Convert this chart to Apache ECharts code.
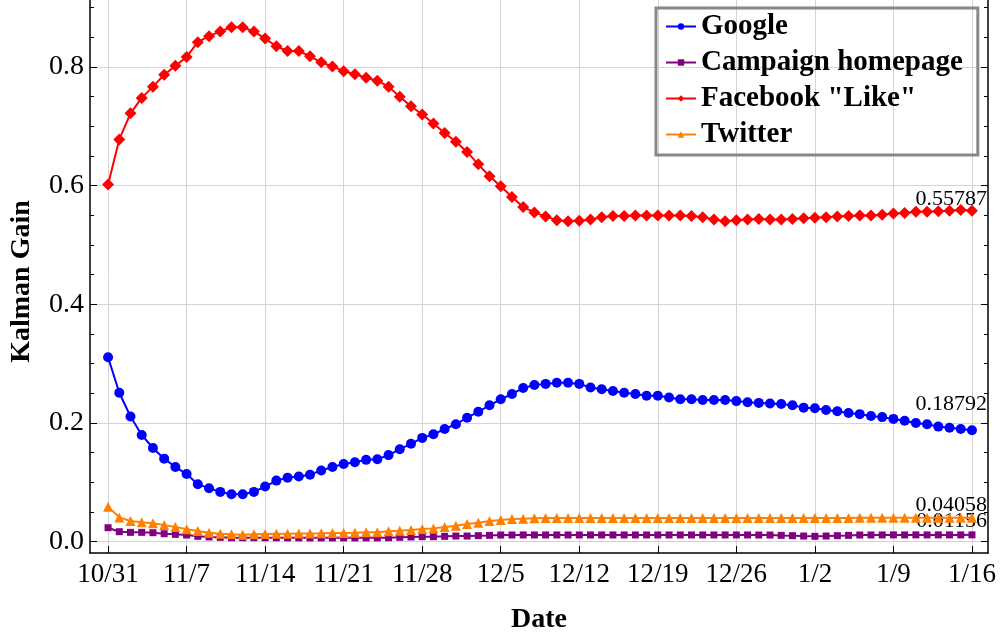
<!DOCTYPE html>
<html>
<head>
<meta charset="utf-8">
<script src="https://cdn.jsdelivr.net/npm/echarts@6/dist/echarts.min.js"></script>
<style>
  html, body { margin: 0; padding: 0; background: #fff; }
  #chart { width: 1000px; height: 636px; }
</style>
</head>
<body>
<div id="chart"></div>
<script>
// ---- Data (day index 0 = 10/31, one point per day through 1/16) ----
const tickDays = [0, 7, 14, 21, 28, 35, 42, 49, 56, 63, 70, 77];
const tickLabels = ['10/31', '11/7', '11/14', '11/21', '11/28', '12/5', '12/12', '12/19', '12/26', '1/2', '1/9', '1/16'];
const yMajor = [0, 0.2, 0.4, 0.6, 0.8];
const yMinor = [0.05, 0.1, 0.15, 0.25, 0.3, 0.35, 0.45, 0.5, 0.55, 0.65, 0.7, 0.75, 0.85, 0.9];

const seriesNames = ['Google', 'Campaign homepage', 'Facebook "Like"', 'Twitter'];

const google = [
  0.311, 0.251, 0.211, 0.180, 0.158, 0.140, 0.126, 0.114, 0.097, 0.090,
  0.084, 0.080, 0.080, 0.084, 0.093, 0.103, 0.108, 0.110, 0.113, 0.120,
  0.126, 0.131, 0.134, 0.138, 0.139, 0.146, 0.156, 0.165, 0.175, 0.181,
  0.190, 0.198, 0.209, 0.219, 0.230, 0.240, 0.249, 0.259, 0.264, 0.266,
  0.268, 0.268, 0.266, 0.260, 0.257, 0.254, 0.251, 0.249, 0.246, 0.246,
  0.243, 0.240, 0.240, 0.239, 0.239, 0.239, 0.237, 0.235, 0.234, 0.233,
  0.232, 0.230, 0.226, 0.225, 0.222, 0.220, 0.217, 0.215, 0.212, 0.210,
  0.207, 0.204, 0.200, 0.198, 0.194, 0.192, 0.190, 0.18792
];
const campaign = [
  0.0236, 0.0169, 0.0158, 0.0158, 0.0152, 0.0135, 0.0124, 0.0113, 0.0091, 0.0080,
  0.0074, 0.0068, 0.0068, 0.0068, 0.0067, 0.0067, 0.0066, 0.0066, 0.0065, 0.0065,
  0.0065, 0.0065, 0.0065, 0.0065, 0.0065, 0.0068, 0.0074, 0.0080, 0.0085, 0.0085,
  0.0091, 0.0096, 0.0096, 0.0102, 0.0107, 0.0113, 0.0113, 0.0114, 0.0114, 0.0114,
  0.0114, 0.0114, 0.0114, 0.0114, 0.0114, 0.0114, 0.0114, 0.0114, 0.0114, 0.0114,
  0.0114, 0.0114, 0.0114, 0.0114, 0.0114, 0.0114, 0.0114, 0.0114, 0.0113, 0.0113,
  0.0107, 0.0102, 0.0096, 0.0091, 0.0096, 0.0102, 0.0107, 0.0113, 0.0114, 0.0114,
  0.0115, 0.0115, 0.0115, 0.0115, 0.0115, 0.0115, 0.0115, 0.01156
];
const facebook = [
  0.602, 0.678, 0.722, 0.748, 0.767, 0.787, 0.802, 0.817, 0.842, 0.852,
  0.860, 0.867, 0.867, 0.860, 0.848, 0.835, 0.827, 0.827, 0.818, 0.808,
  0.801, 0.793, 0.788, 0.782, 0.777, 0.767, 0.750, 0.734, 0.720, 0.705,
  0.689, 0.674, 0.657, 0.636, 0.616, 0.599, 0.581, 0.564, 0.555, 0.548,
  0.542, 0.540, 0.541, 0.543, 0.547, 0.549, 0.549, 0.550, 0.550, 0.550,
  0.550, 0.550, 0.549, 0.547, 0.543, 0.540, 0.542, 0.543, 0.544, 0.543,
  0.543, 0.544, 0.545, 0.546, 0.547, 0.548, 0.549, 0.550, 0.550, 0.551,
  0.553, 0.554, 0.556, 0.556, 0.557, 0.558, 0.559, 0.55787
];
const twitter = [
  0.059, 0.041, 0.035, 0.033, 0.031, 0.028, 0.025, 0.021, 0.018, 0.015,
  0.0135, 0.0124, 0.0118, 0.0124, 0.0130, 0.0135, 0.0135, 0.0138, 0.0140, 0.0142,
  0.0145, 0.0148, 0.0152, 0.0158, 0.0160, 0.0175, 0.0185, 0.0197, 0.0214, 0.0225,
  0.0248, 0.0270, 0.0298, 0.0320, 0.0349, 0.0366, 0.0382, 0.0388, 0.0394, 0.0398,
  0.0400, 0.0401, 0.0401, 0.0401, 0.0401, 0.0401, 0.0401, 0.0401, 0.0401, 0.0401,
  0.0401, 0.0401, 0.0401, 0.0401, 0.0401, 0.0401, 0.0401, 0.0401, 0.0401, 0.0401,
  0.0401, 0.0401, 0.0401, 0.0401, 0.0401, 0.0401, 0.0401, 0.0402, 0.0402, 0.0402,
  0.0403, 0.0403, 0.0404, 0.0404, 0.0405, 0.0405, 0.0405, 0.04058
];
const endLabels = ['0.18792', '0.01156', '0.55787', '0.04058'];

// ---- Styling ----
const SERIF = '"Liberation Serif", "Times New Roman", serif';
const colors = ['#0000ff', '#800080', '#ff0000', '#ff8000'];
const symbols = ['circle', 'rect', 'diamond', 'triangle'];
const symbolSizes = [10, 7, 12, 10];
const labelOffsets = [[15, -10], [15, 1], [15, 6], [15, 4]];
const values = [google, campaign, facebook, twitter];

function buildData(arr, idx) {
  return arr.map((v, i) => {
    if (i === arr.length - 1) {
      return {
        value: [i, v],
        label: {
          show: true,
          formatter: endLabels[idx],
          position: 'top',
          distance: 0,
          align: 'right',
          offset: labelOffsets[idx],
          fontFamily: SERIF,
          fontSize: 22,
          color: '#000'
        }
      };
    }
    return [i, v];
  });
}

const yMin = -0.019, yMax = 0.913;
const axisLineStyle = { color: '#000', width: 1.5 };
const gridLine = { show: true, lineStyle: { color: '#d4d4d4', width: 1 } };

const chart = echarts.init(document.getElementById('chart'), null, { renderer: 'canvas' });
chart.setOption({
  animation: false,
  backgroundColor: '#fff',
  grid: { left: 90, right: 12, top: 0, bottom: 83, containLabel: false, outerBoundsMode: 'none' },
  legend: {
    orient: 'vertical',
    left: 656, top: 8,
    data: seriesNames,
    borderColor: '#888', borderWidth: 3,
    padding: [4, 15, 6, 9],
    itemGap: 7, itemWidth: 30, itemHeight: 8,
    textStyle: { fontFamily: SERIF, fontWeight: 'bold', fontSize: 29, color: '#000' }
  },
  xAxis: [{
    type: 'value', min: -1.61, max: 78.43,
    axisLine: { show: true, onZero: false, lineStyle: axisLineStyle },
    axisTick: { show: true, inside: true, length: 7, customValues: tickDays, lineStyle: { color: '#000', width: 1 } },
    axisLabel: {
      customValues: tickDays,
      formatter: v => tickLabels[tickDays.indexOf(v)] || '',
      fontFamily: SERIF, fontSize: 27, color: '#000', margin: 8
    },
    splitLine: gridLine,
    name: 'Date', nameLocation: 'middle', nameGap: 53,
    nameTextStyle: { fontFamily: SERIF, fontWeight: 'bold', fontSize: 28, color: '#000' }
  }],
  yAxis: [{
    type: 'value', min: yMin, max: yMax, position: 'left',
    axisLine: { show: true, onZero: false, lineStyle: axisLineStyle },
    axisTick: { show: true, inside: true, length: 7, customValues: yMajor, lineStyle: { color: '#000', width: 1 } },
    axisLabel: {
      customValues: yMajor,
      formatter: v => v.toFixed(1),
      fontFamily: SERIF, fontSize: 28, color: '#000', margin: 6
    },
    splitLine: gridLine,
    name: 'Kalman Gain', nameLocation: 'middle', nameGap: 54, nameRotate: 90,
    nameTextStyle: { fontFamily: SERIF, fontWeight: 'bold', fontSize: 28, color: '#000', padding: [0, 10, 0, 0] }
  }, {
    type: 'value', min: yMin, max: yMax, position: 'left',
    axisLine: { show: false, onZero: false },
    axisTick: { show: true, inside: true, length: 4, customValues: yMinor, lineStyle: { color: '#000', width: 1 } },
    axisLabel: { show: false },
    splitLine: { show: false }
  }, {
    type: 'value', min: yMin, max: yMax, position: 'right',
    axisLine: { show: true, onZero: false, lineStyle: axisLineStyle },
    axisTick: { show: true, inside: true, length: 7, customValues: yMajor, lineStyle: { color: '#000', width: 1 } },
    axisLabel: { show: false },
    splitLine: { show: false }
  }, {
    type: 'value', min: yMin, max: yMax, position: 'right',
    axisLine: { show: false, onZero: false },
    axisTick: { show: true, inside: true, length: 4, customValues: yMinor, lineStyle: { color: '#000', width: 1 } },
    axisLabel: { show: false },
    splitLine: { show: false }
  }],
  series: seriesNames.map((name, k) => ({
    name: name,
    type: 'line',
    xAxisIndex: 0, yAxisIndex: 0,
    data: buildData(values[k], k),
    symbol: symbols[k],
    symbolSize: symbolSizes[k],
    showAllSymbol: true,
    lineStyle: { color: colors[k], width: 2 },
    itemStyle: { color: colors[k] },
    z: [3, 2, 4, 3][k]
  }))
});
</script>
</body>
</html>
